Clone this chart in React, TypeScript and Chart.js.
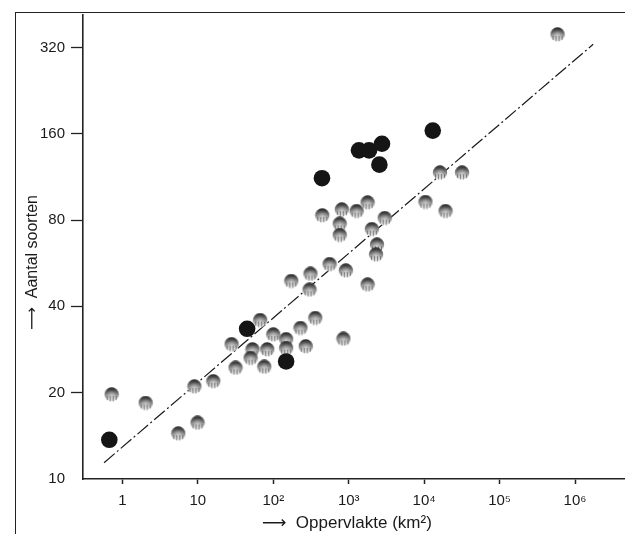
import React, { useEffect, useRef } from 'react';
import { Chart, registerables } from 'chart.js';

Chart.register(...registerables);

// Gray (shaded) observations: area (km²) and number of species
const grayX = [0.72, 2.03, 5.5, 9.9, 9.0, 16, 31.6, 28, 67, 53, 50, 83, 76, 100, 148, 148, 229, 269, 360, 850,
  173, 311, 302, 558, 915, 1780, 446, 810, 760, 760, 1274, 1780, 3000, 2025, 2370, 2300, 10400, 19200, 16200, 31800, 586000];
const grayY = [19.7, 18.4, 14.4, 15.7, 21.0, 21.9, 24.4, 29.5, 35.8, 28.3, 26.4, 28.3, 24.6, 31.9, 30.7, 28.6, 33.6, 29.0, 36.4, 30.8,
  49.0, 51.9, 45.7, 56.1, 53.3, 47.6, 83, 87, 77.6, 70.9, 85.9, 92, 81.2, 74.3, 65.6, 60.6, 92.4, 85.9, 117, 117, 355];

// Dark (filled) observations
const darkX = [0.67, 45, 148, 442, 1368, 1862, 2760, 2550, 13000];
const darkY = [13.7, 33.4, 25.7, 111.9, 140, 140, 147.6, 124.8, 164];

// Regression line end points
const fitX = [0.57, 1.74e6];
const fitY = [11.4, 328];

const xTickValues = [1, 10, 100, 1000, 10000, 100000, 1000000];
const xTickLabels = ['1', '10', '10²', '10³', '10⁴', '10⁵', '10⁶'];
const yTickValues = [10, 20, 40, 80, 160, 320];
const yTickLabels = ['10', '20', '40', '80', '160', '320'];

const xTitle = '⟶  Oppervlakte (km²)   ';
const yTitle = '⟶  Aantal soorten       ';

const FONT = "'Liberation Sans', 'DejaVu Sans', Arial, sans-serif";
const INK = '#1a1a1a';

function makeDome(): HTMLCanvasElement {
  const c = document.createElement('canvas');
  c.width = 16;
  c.height = 15;
  const g = c.getContext('2d')!;
  g.save();
  g.beginPath();
  g.arc(8, 7.5, 7.2, 0, Math.PI * 2);
  g.clip();
  const lin = g.createLinearGradient(0, 0, 0, 15);
  lin.addColorStop(0, '#1e1e1e');
  lin.addColorStop(0.3, '#5c5c5c');
  lin.addColorStop(0.68, '#b0b0b0');
  lin.addColorStop(1, '#f6f6f6');
  g.fillStyle = lin;
  g.fillRect(0, 0, 16, 15);
  const rad = g.createRadialGradient(8, 8.5, 0, 8, 8.5, 5.5);
  rad.addColorStop(0, 'rgba(255,255,255,0.5)');
  rad.addColorStop(1, 'rgba(255,255,255,0)');
  g.fillStyle = rad;
  g.fillRect(0, 0, 16, 15);
  g.strokeStyle = 'rgba(40,40,40,0.45)';
  g.lineWidth = 1;
  for (let i = 3; i <= 13; i += 3) {
    g.beginPath();
    g.moveTo(i + 0.5, 9);
    g.lineTo(i + 0.5, 15);
    g.stroke();
  }
  g.restore();
  return c;
}

export default function App() {
  const ref = useRef<HTMLCanvasElement | null>(null);

  useEffect(() => {
    if (!ref.current) return;
    const dome = makeDome();
    const chart = new Chart(ref.current, {
      type: 'scatter',
      data: {
        datasets: [
          {
            label: 'fit',
            data: fitX.map((x, i) => ({ x, y: fitY[i] })),
            showLine: true,
            borderColor: INK,
            borderWidth: 1.2,
            borderDash: [14, 3, 2, 3],
            pointRadius: 0,
            fill: false,
            order: 3,
          } as any,
          {
            label: 'gray',
            data: grayX.map((x, i) => ({ x, y: grayY[i] })),
            pointStyle: dome,
            pointRadius: 7.5,
            order: 2,
          } as any,
          {
            label: 'dark',
            data: darkX.map((x, i) => ({ x, y: darkY[i] })),
            pointStyle: 'circle',
            pointRadius: 8.3,
            backgroundColor: '#151515',
            borderColor: '#151515',
            borderWidth: 0,
            order: 1,
          },
        ],
      },
      options: {
        responsive: false,
        animation: false,
        devicePixelRatio: 1,
        plugins: { legend: { display: false }, tooltip: { enabled: false } },
        layout: { autoPadding: false, padding: { top: 13, left: 0, right: 0, bottom: 0 } },
        scales: {
          x: {
            type: 'logarithmic',
            min: 0.324,
            max: 4.6e6,
            afterBuildTicks: (s: any) => {
              s.ticks = xTickValues.map((v) => ({ value: v }));
            },
            afterFit: (s: any) => {
              s.height = 55;
            },
            ticks: {
              autoSkip: false,
              maxRotation: 0,
              padding: 8,
              color: INK,
              font: { family: FONT, size: 15 },
              callback: (v: any) => {
                const i = xTickValues.indexOf(Number(v));
                return i >= 0 ? xTickLabels[i] : '';
              },
            },
            grid: { drawOnChartArea: false, drawTicks: true, tickLength: 5, tickColor: '#222', tickWidth: 1.5 },
            border: { color: '#222', width: 1.6 },
            title: {
              display: true,
              text: xTitle,
              color: INK,
              font: { family: FONT, size: 17 },
              padding: { top: 0, bottom: 0 },
            },
          },
          y: {
            type: 'logarithmic',
            min: 10,
            max: 415,
            afterBuildTicks: (s: any) => {
              s.ticks = yTickValues.map((v) => ({ value: v }));
            },
            afterFit: (s: any) => {
              s.width = 83;
            },
            ticks: {
              autoSkip: false,
              padding: 6,
              color: INK,
              font: { family: FONT, size: 15 },
              callback: (v: any) => {
                const i = yTickValues.indexOf(Number(v));
                return i >= 0 ? yTickLabels[i] : '';
              },
            },
            grid: {
              drawOnChartArea: false,
              drawTicks: true,
              tickLength: 12,
              tickWidth: 1.3,
              tickColor: (ctx: any) => (ctx.tick && ctx.tick.value === 10 ? 'rgba(0,0,0,0)' : '#222'),
            },
            border: { color: '#222', width: 1.6 },
            title: {
              display: true,
              text: yTitle,
              color: INK,
              font: { family: FONT, size: 16 },
              padding: { top: 23, bottom: 0 },
            },
          },
        },
      } as any,
    });
    return () => chart.destroy();
  }, []);

  return (
    <div style={{ position: 'absolute', left: 0, top: 0, width: 625, height: 534, background: '#fff' }}>
      <canvas ref={ref} width={625} height={534} style={{ display: 'block' }} />
      <div
        style={{
          position: 'absolute',
          left: 15,
          top: 12,
          width: 610,
          height: 522,
          borderLeft: '1.5px solid #222',
          borderTop: '1.5px solid #222',
          pointerEvents: 'none',
        }}
      />
    </div>
  );
}
